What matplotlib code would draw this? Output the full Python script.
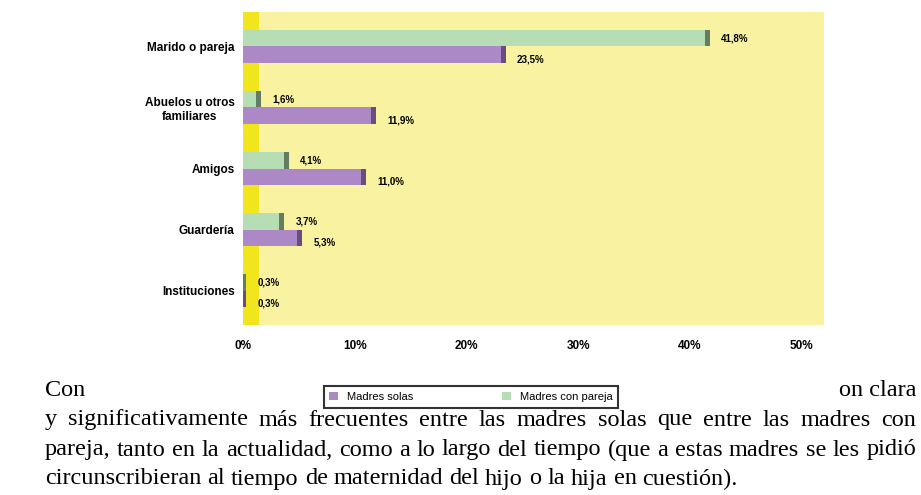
import numpy as np
import matplotlib.pyplot as plt
from matplotlib.patches import Patch

# datos (porcentajes)
categorias = ['Marido o pareja', 'Abuelos u otros\nfamiliares', 'Amigos', 'Guardería', 'Instituciones']
madres_solas = [23.5, 11.9, 11.0, 5.3, 0.3]
madres_pareja = [41.8, 1.6, 4.1, 3.7, 0.3]
series = ['Madres solas', 'Madres con pareja']
ticks_x = [0, 10, 20, 30, 40, 50]
ticks_lbl = ['0%', '10%', '20%', '30%', '40%', '50%']

parrafo = [
    'y significativamente más frecuentes entre las madres solas que entre las madres con',
    'pareja, tanto en la actualidad, como a lo largo del tiempo (que a estas madres se les pidió',
    'circunscribieran al tiempo de maternidad del hijo o la hija en cuestión).',
]

plt.rcParams['font.family'] = ['Liberation Sans', 'DejaVu Sans']

W, H = 921, 495
fig = plt.figure(figsize=(W / 100, H / 100), dpi=100)
ax = fig.add_axes([243 / W, 1 - 325 / H, 581 / W, 313 / H])
ax.set_facecolor('#F9F3A1')
ax.axvspan(0, 1.4, color='#F1E61E', zorder=0, lw=0)

y = np.arange(len(categorias))
h = 0.27
verde, morado = '#B7DDB5', '#AD88C6'
ax.barh(y - h / 2, madres_pareja, height=h, color=verde, zorder=2)
ax.barh(y + h / 2, madres_solas, height=h, color=morado, zorder=2)
# extremo oscuro de cada barra (efecto 3D)
cap = 0.45
ax.barh(y - h / 2, cap, left=np.array(madres_pareja) - cap, height=h, color='#627D62', zorder=3)
ax.barh(y + h / 2, cap, left=np.array(madres_solas) - cap, height=h, color='#6B4C80', zorder=3)

for i in range(len(categorias)):
    ax.text(madres_pareja[i] + 1.0, y[i] - h / 2, f'{madres_pareja[i]:.1f}%'.replace('.', ','),
            va='center', ha='left', fontsize=7, fontweight='bold')
    ax.text(madres_solas[i] + 1.0, y[i] + h / 2 + 0.08, f'{madres_solas[i]:.1f}%'.replace('.', ','),
            va='center', ha='left', fontsize=7, fontweight='bold')

ax.set_xlim(0, 52)
ax.set_ylim(len(categorias) - 0.435, -0.565)
ax.set_xticks(ticks_x, ticks_lbl)
ax.set_yticks(y, categorias)
ax.get_yticklabels()[1].set_multialignment('center')
ax.tick_params(axis='y', length=0, pad=6, labelsize=8.5)
ax.tick_params(axis='x', length=0, pad=11, labelsize=8.5)
for lbl in ax.get_xticklabels() + ax.get_yticklabels():
    lbl.set_fontweight('bold')
for s in ax.spines.values():
    s.set_visible(False)

handles = [Patch(facecolor=morado), Patch(facecolor=verde)]
leg = fig.legend(handles, series, loc='center', bbox_to_anchor=(471 / W, 1 - 397 / H), ncol=2,
                 frameon=True, fancybox=False, fontsize=8, handlelength=0.8, handleheight=0.8,
                 columnspacing=8, borderpad=0.5)
leg.get_frame().set_edgecolor('black')
leg.get_frame().set_linewidth(1.5)

# texto del documento alrededor del gráfico
serif = ['Liberation Serif', 'DejaVu Serif']
fs = 17.5
fig.text(45 / W, 1 - 390 / H, 'Con', family=serif, fontsize=fs, va='center', ha='left')
fig.text(916 / W, 1 - 390 / H, 'on clara', family=serif, fontsize=fs, va='center', ha='right')

renderer = fig.canvas.get_renderer()
x0, x1 = 45, 916
lineas_y = [420, 450, 479]
for k, linea in enumerate(parrafo):
    yy = 1 - lineas_y[k] / H
    palabras = linea.split(' ')
    objs = [fig.text(0, yy, p, family=serif, fontsize=fs, va='center', ha='left') for p in palabras]
    anchos = [t.get_window_extent(renderer).width for t in objs]
    if k < len(parrafo) - 1:
        hueco = (x1 - x0 - sum(anchos)) / (len(palabras) - 1)
    else:
        hueco = fs * 0.25 * 100 / 72
    x = x0
    for t, a in zip(objs, anchos):
        t.set_x(x / W)
        x += a + hueco

fig.savefig('out.png', dpi=100, facecolor='white')
